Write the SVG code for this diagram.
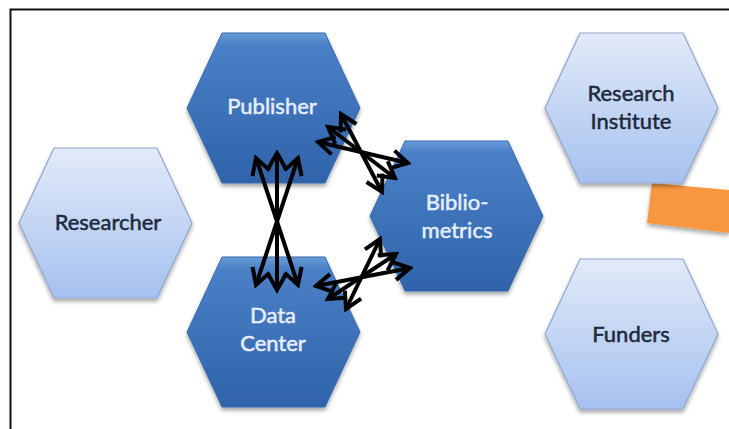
<svg xmlns="http://www.w3.org/2000/svg" width="729" height="429" viewBox="0 0 729 429">
<style>
  .dark { fill: url(#gDark); stroke: #3A6AAE; stroke-width: 1; }
  .light { fill: url(#gLight); stroke: #8FA6CC; stroke-width: 1.2; }
  .tDark { font-family: Lato, "Open Sans", "Liberation Sans", sans-serif; font-size: 22px; fill: #E6EEFA; stroke: #E6EEFA; stroke-width: 0.5; text-anchor: middle; }
  .tLight { font-family: Lato, "Open Sans", "Liberation Sans", sans-serif; font-size: 22px; fill: #1C2A3C; stroke: #1C2A3C; stroke-width: 0.5; text-anchor: middle; }
  .arr { stroke: #000; stroke-width: 4; fill: none; marker-start: url(#ah); marker-end: url(#ah); }
</style>
<defs>
  <linearGradient id="gDark" x1="0" y1="0" x2="0" y2="1">
    <stop offset="0" stop-color="#6A9BD8"/>
    <stop offset="0.08" stop-color="#4A80C6"/>
    <stop offset="1" stop-color="#2F63AA"/>
  </linearGradient>
  <linearGradient id="gLight" x1="0" y1="0" x2="0" y2="1">
    <stop offset="0" stop-color="#E2EAF9"/>
    <stop offset="1" stop-color="#A6C1EF"/>
  </linearGradient>
  <filter id="sh" x="-10%" y="-10%" width="120%" height="130%">
    <feGaussianBlur in="SourceAlpha" stdDeviation="2"/>
    <feOffset dx="0" dy="3"/>
    <feComponentTransfer><feFuncA type="linear" slope="0.35"/></feComponentTransfer>
    <feMerge><feMergeNode/><feMergeNode in="SourceGraphic"/></feMerge>
  </filter>
  <polygon id="hex" points="0,75 35,0 138,0 173,75 138,150 35,150"/>
  <marker id="ah" markerUnits="userSpaceOnUse" markerWidth="24" markerHeight="24" viewBox="-3 -12 21 24" refX="16" refY="0" orient="auto-start-reverse">
    <path d="M0,-9 L16,0 L0,9" fill="none" stroke="#000" stroke-width="4" stroke-linejoin="miter"/>
  </marker>
</defs>
<rect x="0" y="0" width="729" height="429" fill="#FFFFFF"/>
<path d="M10.5,429 L10.5,9.5 L729,9.5" fill="none" stroke="#111" stroke-width="2"/>

<g id="orange-bar" filter="url(#sh)">
  <polygon points="652,183 729,190 729,233 647,223" fill="#F8973F"/>
</g>

<g id="researcher">
  <use href="#hex" class="light" transform="translate(19,148)" filter="url(#sh)"/>
  <text class="tLight" x="108" y="230">Researcher</text>
</g>
<g id="publisher">
  <use href="#hex" class="dark" transform="translate(187,33)" filter="url(#sh)"/>
  <text class="tDark" x="272" y="114">Publisher</text>
</g>
<g id="data-center">
  <use href="#hex" class="dark" transform="translate(187,257)" filter="url(#sh)"/>
  <text class="tDark" x="273" y="323">Data</text>
  <text class="tDark" x="273" y="351">Center</text>
</g>
<g id="bibliometrics">
  <use href="#hex" class="dark" transform="translate(370,141)" filter="url(#sh)"/>
  <text class="tDark" x="457" y="210">Biblio-</text>
  <text class="tDark" x="457" y="238">metrics</text>
</g>
<g id="research-institute">
  <use href="#hex" class="light" transform="translate(545,33)" filter="url(#sh)"/>
  <text class="tLight" x="631" y="101">Research</text>
  <text class="tLight" x="631" y="129">Institute</text>
</g>
<g id="funders">
  <use href="#hex" class="light" transform="translate(545,259)" filter="url(#sh)"/>
  <text class="tLight" x="631" y="342">Funders</text>
</g>

<g id="connectors">
  <line class="arr" x1="256" y1="158" x2="298" y2="285"/>
  <line class="arr" x1="298" y1="158" x2="256" y2="285"/>
  <line class="arr" x1="277" y1="153" x2="277" y2="290"/>

  <line class="arr" x1="318" y1="142" x2="408" y2="163"/>
  <line class="arr" x1="328" y1="127" x2="395" y2="178"/>
  <line class="arr" x1="341" y1="114" x2="382" y2="192"/>

  <line class="arr" x1="316" y1="286" x2="410" y2="268"/>
  <line class="arr" x1="328" y1="299" x2="396" y2="254"/>
  <line class="arr" x1="346" y1="309" x2="380" y2="239"/>
</g>
</svg>
